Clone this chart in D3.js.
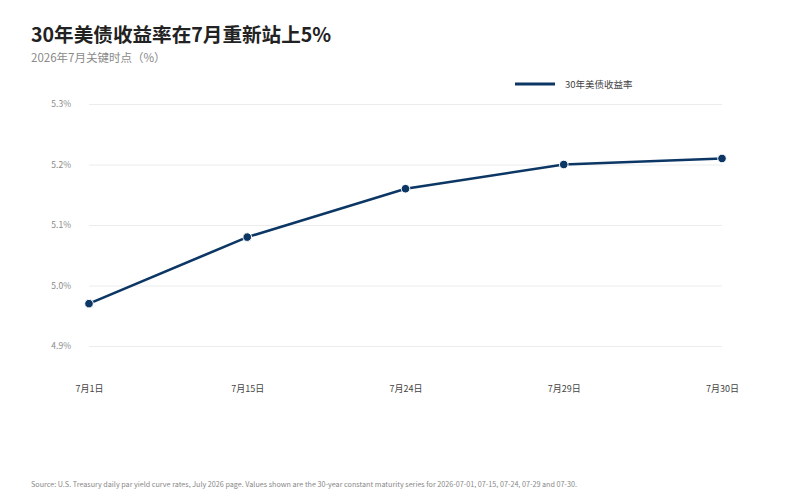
<!DOCTYPE html>
<html><head><meta charset="utf-8">
<script src="https://cdn.jsdelivr.net/npm/d3@7"></script>
<style>
body{margin:0;background:#fff;}
text{font-family:"Noto Sans CJK SC","Noto Sans",sans-serif;}
</style></head>
<body><svg id="c" width="792" height="496"></svg>
<script>
const categories = ["7月1日","7月15日","7月24日","7月29日","7月30日"];
const values = [4.97, 5.08, 5.16, 5.20, 5.21];
const yTicks = [4.9, 5.0, 5.1, 5.2, 5.3];
const seriesName = "30年美债收益率";
const title = "30年美债收益率在7月重新站上5%";
const subtitle = "2026年7月关键时点（%）";
const source = "Source: U.S. Treasury daily par yield curve rates, July 2026 page. Values shown are the 30-year constant maturity series for 2026-07-01, 07-15, 07-24, 07-29 and 07-30.";

const svg = d3.select("#c");
const color = "#0c3765";
const x = d3.scalePoint().domain(categories).range([89, 722]);
const y = d3.scaleLinear().domain([4.9, 5.3]).range([346, 104]);

svg.append("text").attr("x",31).attr("y",42).attr("font-size",19.6).attr("font-weight",700).attr("fill","#222").text(title);
svg.append("text").attr("x",31).attr("y",61.5).attr("font-size",11.5).attr("fill","#8a8a8a").text(subtitle);

// grid
const gy = svg.append("g").attr("transform","translate(89,0)")
  .call(d3.axisLeft(y).tickValues(yTicks).tickSize(-633).tickFormat(d=>d3.format(".1f")(d)+"%"));
gy.select(".domain").remove();
gy.selectAll(".tick line").attr("stroke","#ececec").attr("stroke-width",1);
gy.selectAll(".tick text").attr("x",-18).attr("fill","#8a8a8a").attr("font-size",8.5).attr("font-family","'Noto Sans',sans-serif");

const gx = svg.append("g").attr("transform","translate(0,372)")
  .call(d3.axisBottom(x).tickSize(0).tickPadding(14));
gx.select(".domain").remove();
gx.selectAll(".tick text").attr("fill","#444").attr("font-size",9);

const line = d3.line().x((d,i)=>x(categories[i])).y(d=>y(d));
svg.append("path").datum(values).attr("d",line).attr("fill","none").attr("stroke",color).attr("stroke-width",2.6);
svg.selectAll("circle.pt").data(values).join("circle").attr("class","pt")
  .attr("cx",(d,i)=>x(categories[i])).attr("cy",d=>y(d)).attr("r",4.3)
  .attr("fill",color).attr("stroke","#fff").attr("stroke-width",1);

// legend
svg.append("line").attr("x1",515).attr("x2",555).attr("y1",84).attr("y2",84).attr("stroke",color).attr("stroke-width",3);
svg.append("text").attr("x",565).attr("y",87.5).attr("font-size",9.5).attr("fill","#444").text(seriesName);

svg.append("text").attr("x",31).attr("y",487).attr("font-size",7.2).attr("fill","#888").attr("font-family","'Noto Sans',sans-serif").text(source);
</script></body></html>
